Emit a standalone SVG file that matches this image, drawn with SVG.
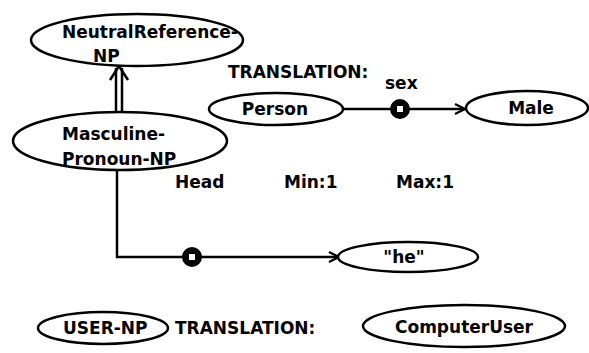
<svg xmlns="http://www.w3.org/2000/svg" width="589" height="353" viewBox="0 0 589 353">
<defs>
<style>
.n{fill:#fff;stroke:#000;stroke-width:2.5}
.t{font-family:"DejaVu Sans","Liberation Sans",Arial,sans-serif;font-weight:bold;font-size:17px;fill:#000}
.m{text-anchor:middle}
.c{fill:none;stroke:#000;stroke-width:2.5}
.k{fill:#000}
.s{fill:#fff;stroke:#000;stroke-width:1}
</style>
<marker id="ah" viewBox="0 0 12 12" refX="11" refY="6" markerWidth="12" markerHeight="12" markerUnits="userSpaceOnUse" orient="auto">
<path d="M1,1 L11,6 L1,11" fill="none" stroke="#000" stroke-width="2.2"/>
</marker>
</defs>
<rect width="589" height="353" fill="#fff"/>
<g id="connectors">
<line class="c" x1="116" y1="112" x2="116" y2="68"/>
<line class="c" x1="122" y1="112" x2="122" y2="68"/>
<path class="c" d="M110,80 L119,66 L128,80"/>
<path class="c" d="M343,109 L465,109" marker-end="url(#ah)"/>
<circle class="k" cx="400" cy="109" r="10"/>
<rect class="s" x="396.5" y="105.5" width="7" height="7"/>
<path class="c" d="M117,170 L117,257 L339,257" marker-end="url(#ah)"/>
<circle class="k" cx="192" cy="257" r="10"/>
<rect class="s" x="188.5" y="253.5" width="7" height="7"/>
</g>
<g id="neutral">
<ellipse class="n" cx="137" cy="40" rx="106" ry="26"/>
<text class="t" x="62" y="38">NeutralReference-</text>
<text class="t" x="93" y="62">NP</text>
</g>
<g id="masculine">
<ellipse class="n" cx="120" cy="141" rx="107" ry="29"/>
<text class="t" x="62" y="140">Masculine-</text>
<text class="t" x="62" y="165">Pronoun-NP</text>
</g>
<text class="t" x="228" y="78">TRANSLATION:</text>
<text class="t" x="385" y="89">sex</text>
<g id="person">
<ellipse class="n" cx="276" cy="109" rx="67" ry="16"/>
<text class="t m" x="275" y="115">Person</text>
</g>
<g id="male">
<ellipse class="n" cx="527" cy="108" rx="61" ry="17"/>
<text class="t m" x="531" y="114">Male</text>
</g>
<text class="t" x="175" y="188">Head</text>
<text class="t" x="284" y="188">Min:1</text>
<text class="t" x="396" y="188">Max:1</text>
<g id="he">
<ellipse class="n" cx="408" cy="257" rx="70" ry="15"/>
<text class="t m" x="404" y="263">"he"</text>
</g>
<g id="usernp">
<ellipse class="n" cx="103" cy="328" rx="65" ry="16"/>
<text class="t" x="63" y="334">USER-NP</text>
</g>
<text class="t" x="175" y="334">TRANSLATION:</text>
<g id="computeruser">
<ellipse class="n" cx="464" cy="326" rx="101" ry="21"/>
<text class="t m" x="464" y="333">ComputerUser</text>
</g>
</svg>
